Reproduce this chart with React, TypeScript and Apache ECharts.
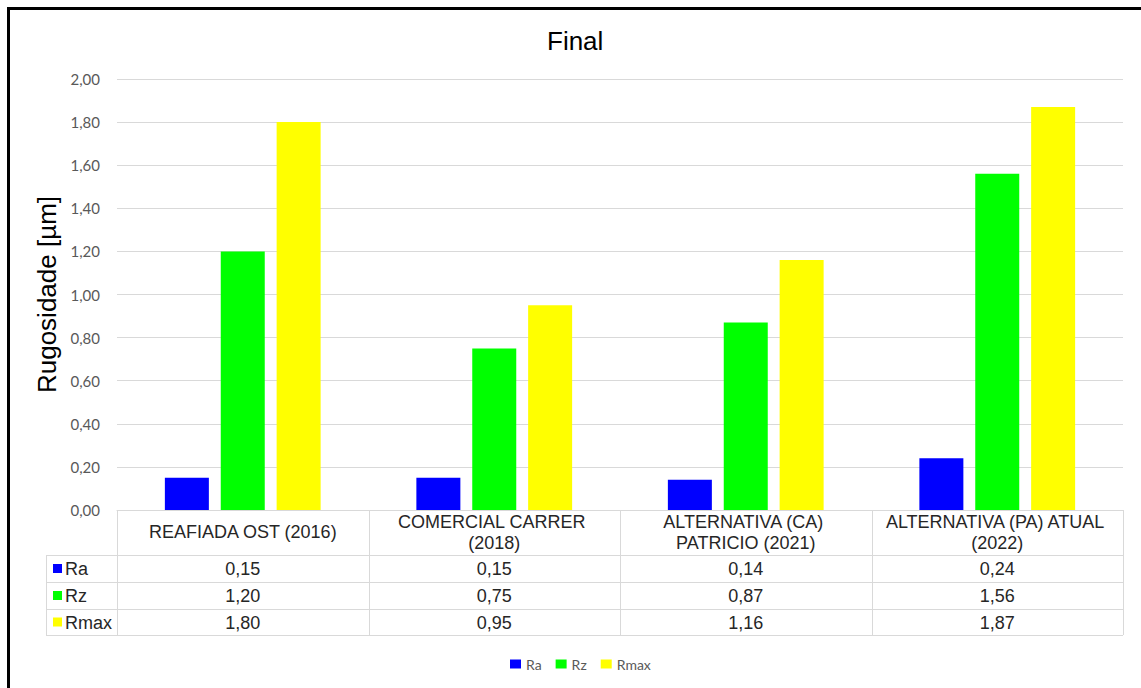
import React, { useEffect, useRef } from "react";
import * as echarts from "echarts";

const categories = [
  "REAFIADA OST (2016)",
  "COMERCIAL CARRER (2018)",
  "ALTERNATIVA (CA) PATRICIO (2021)",
  "ALTERNATIVA (PA) ATUAL (2022)",
];
const seriesNames = ["Ra", "Rz", "Rmax"];
const raValues = [0.15, 0.15, 0.14, 0.24];
const rzValues = [1.2, 0.75, 0.87, 1.56];
const rmaxValues = [1.8, 0.95, 1.16, 1.87];
const seriesColors = ["#0000FF", "#00FF00", "#FFFF00"];
const chartTitle = "Final";
const yAxisTitle = "Rugosidade [µm]";

const fmt = (v: number) => v.toFixed(2).replace(".", ",");

export default function App() {
  const ref = useRef<HTMLDivElement>(null);
  useEffect(() => {
    if (!ref.current) return;
    const chart = echarts.init(ref.current, undefined, { renderer: "svg" });
    const W = 1141;
    const gridLeft = 117;
    const gridRight = 1123;
    const gridTop = 79;
    const gridBottom = 510;
    const rowYs = [555, 582, 609, 635];
    const tableLeft = 46;
    const colW = (gridRight - gridLeft) / categories.length;
    const allValues = [raValues, rzValues, rmaxValues];
    const gray = "#D9D9D9";
    const tableFont = "18px 'Liberation Sans', Arial";
    const graphic: any[] = [];
    // outer frame
    graphic.push({ type: "line", shape: { x1: 7, y1: 8.5, x2: W, y2: 8.5 }, style: { stroke: "#000", lineWidth: 3 } });
    graphic.push({ type: "line", shape: { x1: 8.5, y1: 7, x2: 8.5, y2: 688 }, style: { stroke: "#000", lineWidth: 3 } });
    // horizontal table lines
    rowYs.forEach((y) => {
      graphic.push({ type: "line", shape: { x1: tableLeft, y1: y + 0.5, x2: gridRight, y2: y + 0.5 }, style: { stroke: gray, lineWidth: 1 } });
    });
    // vertical table lines
    graphic.push({ type: "line", shape: { x1: tableLeft + 0.5, y1: rowYs[0], x2: tableLeft + 0.5, y2: rowYs[3] }, style: { stroke: gray, lineWidth: 1 } });
    for (let i = 0; i <= categories.length; i++) {
      const x = Math.round(gridLeft + i * colW) + 0.5;
      graphic.push({ type: "line", shape: { x1: x, y1: gridBottom, x2: x, y2: rowYs[3] }, style: { stroke: gray, lineWidth: 1 } });
    }
    // rows
    seriesNames.forEach((name, r) => {
      const cy = (rowYs[r] + rowYs[r + 1]) / 2 + 0.5;
      graphic.push({ type: "rect", shape: { x: 53, y: cy - 5, width: 9, height: 9 }, style: { fill: seriesColors[r] } });
      graphic.push({
        type: "text",
        x: 65,
        y: cy,
        style: { text: name, fill: "#262626", font: tableFont, textVerticalAlign: "middle", textAlign: "left" },
      });
      allValues[r].forEach((v, c) => {
        graphic.push({
          type: "text",
          x: gridLeft + (c + 0.5) * colW,
          y: cy,
          style: { text: fmt(v), fill: "#262626", font: tableFont, textVerticalAlign: "middle", textAlign: "center" },
        });
      });
    });

    chart.setOption({
      animation: false,
      backgroundColor: "#FFFFFF",
      title: {
        text: chartTitle,
        left: 542,
        top: 23,
        textStyle: { fontSize: 26, fontWeight: "normal", color: "#000", fontFamily: "'Liberation Sans', Arial" },
      },
      legend: {
        data: seriesNames,
        top: 652,
        left: 505,
        icon: "rect",
        itemWidth: 11,
        itemHeight: 9,
        itemGap: 14,
        textStyle: { fontSize: 14, color: "#595959", fontFamily: "Lato" },
      },
      grid: { left: gridLeft, right: W - gridRight, top: gridTop, bottom: 688 - gridBottom, containLabel: false },
      xAxis: {
        type: "category",
        data: categories,
        axisLine: { show: true, lineStyle: { color: gray } },
        axisTick: { show: false },
        axisLabel: {
          interval: 0,
          fontSize: 18,
          color: "#262626",
          fontFamily: "'Liberation Sans', Arial",
          lineHeight: 21,
          width: 236,
          overflow: "break",
          margin: 22,
          verticalAlign: "middle",
        },
      },
      yAxis: {
        type: "value",
        min: 0,
        max: 2,
        interval: 0.2,
        name: yAxisTitle,
        nameLocation: "middle",
        nameGap: 54,
        nameTextStyle: { fontSize: 26, color: "#000", fontFamily: "'Liberation Sans', Arial" },
        axisLine: { show: false },
        axisTick: { show: false },
        axisLabel: { formatter: (v: number) => fmt(v), fontSize: 15, color: "#595959", fontFamily: "Lato", margin: 17 },
        splitLine: { lineStyle: { color: gray } },
      },
      series: seriesNames.map((name, i) => ({
        name,
        type: "bar",
        data: allValues[i],
        barWidth: 44,
        barGap: "27%",
        itemStyle: { color: seriesColors[i] },
      })),
      graphic,
    });
    return () => chart.dispose();
  }, []);
  return <div ref={ref} style={{ position: "absolute", left: 0, top: 0, width: 1141, height: 688 }} />;
}
